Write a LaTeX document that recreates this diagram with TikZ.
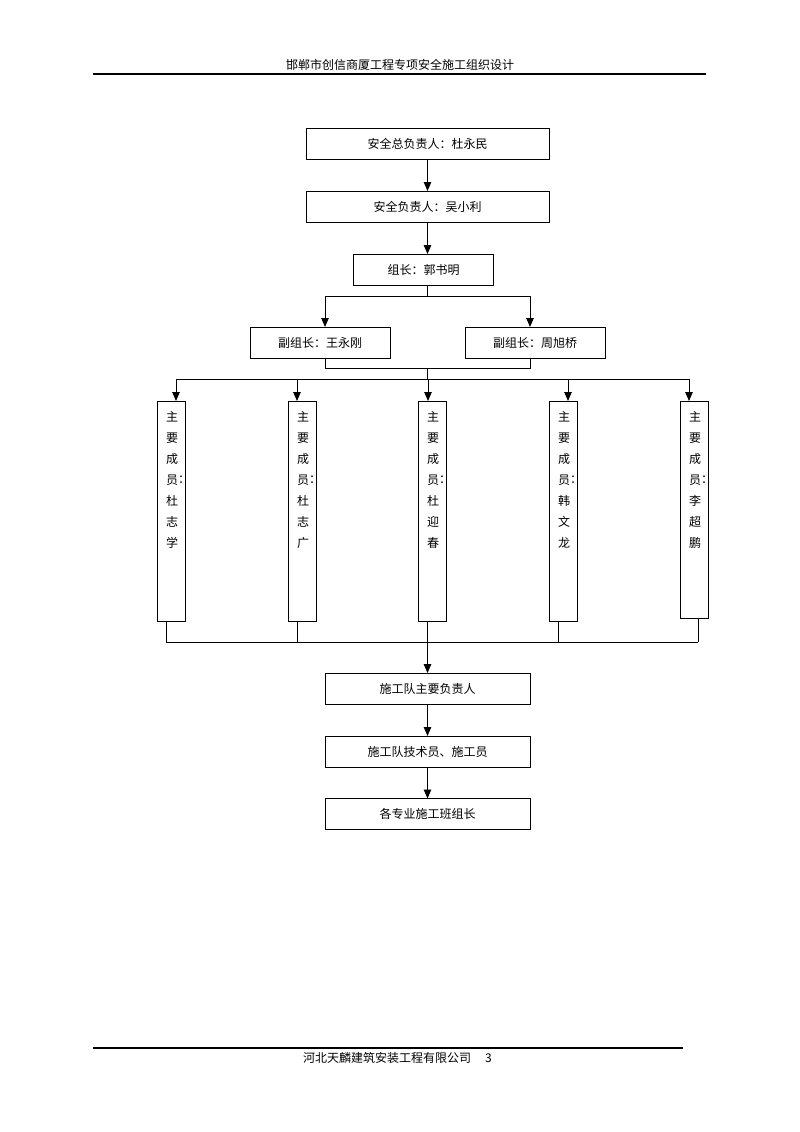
\documentclass[tikz,border=0pt]{standalone}
\usepackage{fontspec}
\newfontfamily\cjk{Noto Sans CJK SC}
\usetikzlibrary{arrows.meta,calc}
\begin{document}
\begin{tikzpicture}[x=1pt,y=-1pt,
  box/.style={draw, line width=0.9pt, inner sep=0pt, outer sep=0pt, minimum height=31pt, font=\cjk\fontsize{12}{14}\selectfont},
  ln/.style={line width=0.9pt},
  arr/.style={line width=0.9pt, -{Triangle[length=9pt,width=7.5pt]}},
  txt/.style={inner sep=0pt, font=\cjk\fontsize{12}{14}\selectfont},
  rule/.style={line width=1.2pt}]
\useasboundingbox[fill=white] (0,0) rectangle (800,1132);

% header / footer
\node[txt] (head) at (400,65) {邯郸市创信商厦工程专项安全施工组织设计};
\coordinate (hl) at (93,74); \coordinate (hr) at (706,74);
\draw[rule] (hl) -- (hr);
\coordinate (fl) at (93,1048); \coordinate (fr) at (683,1048);
\draw[rule] (fl) -- (fr);
\node[txt, anchor=west] (foot) at (303,1058) {河北天麟建筑安装工程有限公司\hspace{14pt}3};

% top chain
\node[box, minimum width=243pt] (b1) at (427.5,143.5) {安全总负责人：杜永民};
\node[box, minimum width=243pt] (b2) at (427.5,206.5) {安全负责人：吴小利};
\node[box, minimum width=140pt] (b3) at (423.5,269.5) {组长：郭书明};
\draw[arr] (b1.south) -- (b2.north);
\draw[arr] (b2.south) -- (b2.south |- b3.north);

% deputies
\node[box, minimum width=140pt] (d1) at (320,342.5) {副组长：王永刚};
\node[box, minimum width=140pt] (d2) at (535,342.5) {副组长：周旭桥};
\coordinate (j1) at (427.5,296);
\coordinate (dl) at (325,296);
\coordinate (dr) at (530,296);
\draw[ln] (b2.south |- b3.south) -- (j1);
\draw[ln] (dl) -- (dr);
\draw[arr] (dl) -- (d1.north -| dl);
\draw[arr] (dr) -- (d2.north -| dr);
\coordinate (ul) at (325,368);
\coordinate (ur) at (530,368);
\coordinate (j2) at (427.5,368);
\coordinate (j3) at (427.5,379);
\draw[ln] (d1.south -| ul) -- (ul) -- (ur) -- (d2.south -| ur);
\draw[ln] (j2) -- (j3);

% members
\node[draw, line width=0.9pt, inner sep=0pt, outer sep=0pt, minimum width=28pt, minimum height=220pt] (m1) at (171,511) {};
\node[draw, line width=0.9pt, inner sep=0pt, outer sep=0pt, minimum width=28pt, minimum height=220pt] (m2) at (302,511) {};
\node[draw, line width=0.9pt, inner sep=0pt, outer sep=0pt, minimum width=28pt, minimum height=220pt] (m3) at (432,511) {};
\node[draw, line width=0.9pt, inner sep=0pt, outer sep=0pt, minimum width=28pt, minimum height=220pt] (m4) at (563,511) {};
\node[draw, line width=0.9pt, inner sep=0pt, outer sep=0pt, minimum width=28pt, minimum height=217pt] (m5) at (694,509.5) {};

\foreach \n/\xc/\a/\b/\cc in {m1/171/杜/志/学, m2/302/杜/志/广, m3/432/杜/迎/春, m4/563/韩/文/龙, m5/694/李/超/鹏} {
  \foreach \ch [count=\i from 0] in {主,要,成,员,\a,\b,\cc}
    \node[txt] (\n-\i) at (\xc+1, 417+21*\i) {\ch};
  \node[txt, anchor=west] (\n-colon) at (\xc+7, 480) {：};
}

\coordinate (a1) at (176,379);
\coordinate (a2) at (297,379);
\coordinate (a3) at (428,379);
\coordinate (a4) at (568,379);
\coordinate (a5) at (689,379);
\draw[ln] (a1) -- (a5);
\foreach \k in {1,...,5}
  \draw[arr] (a\k) -- (m\k.north -| a\k);

% bottom collector
\coordinate (c1) at (166,642);
\coordinate (c2) at (297,642);
\coordinate (c4) at (558,642);
\coordinate (c5) at (698,642);
\draw[ln] (c1) -- (c5);
\draw[ln] (m1.south -| c1) -- (c1);
\draw[ln] (m2.south -| c2) -- (c2);
\draw[ln] (m4.south -| c4) -- (c4);
\draw[ln] (m5.south -| c5) -- (c5);

% lower chain
\node[box, minimum width=205pt] (t1) at (427.5,688.5) {施工队主要负责人};
\node[box, minimum width=205pt] (t2) at (427.5,751.5) {施工队技术员、施工员};
\node[box, minimum width=205pt] (t3) at (427.5,814) {各专业施工班组长};
\draw[arr] (m3.south -| t1.north) -- (t1.north);
\draw[arr] (t1.south) -- (t2.north);
\draw[arr] (t2.south) -- (t3.north);
\end{tikzpicture}
\end{document}
